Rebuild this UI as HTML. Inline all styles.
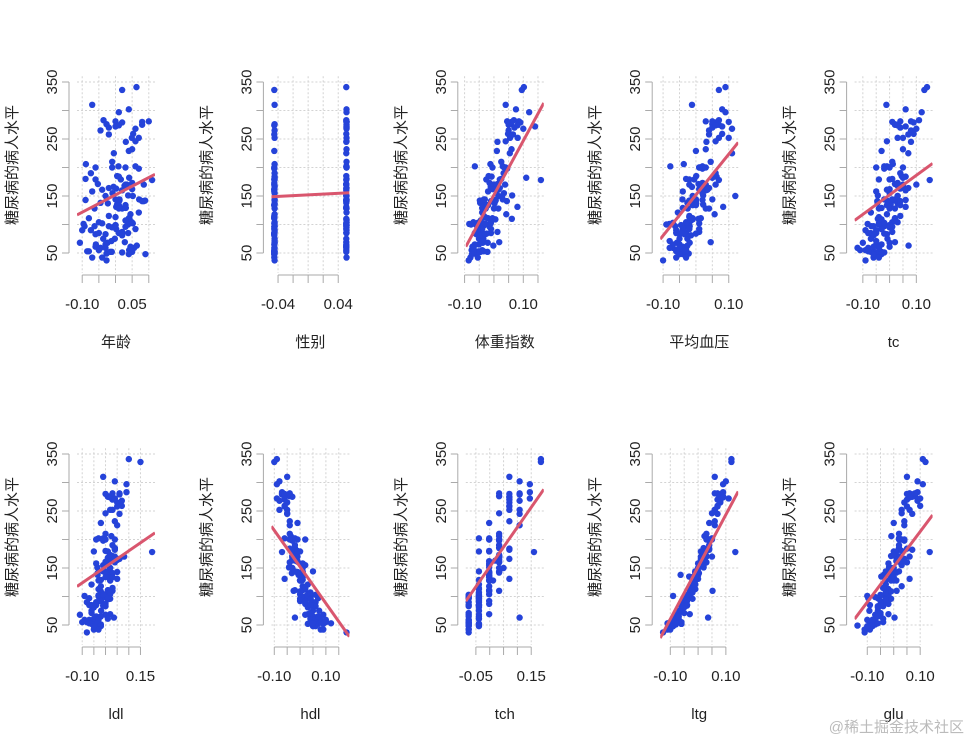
<!DOCTYPE html>
<html><head><meta charset="utf-8"><style>
body{margin:0;background:#fff}
svg{display:block;font-family:"Liberation Sans","Noto Sans CJK SC",sans-serif}
</style></head><body>
<svg id="c" width="972" height="743"></svg>
<script>
// target: disease progression (shared y for every panel)
const yVals=[151,75,141,206,135,97,138,63,110,310,101,69,179,185,118,171,166,144,97,168,68,49,68,245,184,202,137,85,131,283,129,59,341,87,65,102,265,276,252,90,100,55,61,92,259,53,190,142,75,142,155,225,59,104,182,128,52,37,170,170,61,144,52,128,71,163,150,97,160,178];
const yVals2=[48,270,202,111,85,42,170,200,252,113,143,51,52,210,65,141,55,134,42,111,98,164,48,96,90,162,150,279,92,83,128,102,302,198,95,53,134,144,232,81,104,59,246,297,258,229,275,281,179,200,200,173,180,84,121,161,99,109,115,268,274,158,107,83,103,272,85,280,336,281];
const featureNames=["年龄","性别","体重指数","平均血压","tc","ldl","hdl","tch","ltg","glu"];
const featureKeys=["age","sex","bmi","bp","tc","ldl","hdl","tch","ltg","glu"];
const slopes=[304,69,949,714,343,281,-640,696,916,619];
const intercept=152;
const age=[0.038,-0.002,0.085,-0.089,0.005,-0.093,-0.045,0.064,0.042,-0.07,-0.096,0.028,0.016,0.005,0.045,-0.053,-0.006,0.071,-0.063,0.027,-0.107,-0.027,-0.024,0.031,0.01,0.009,-0.023,0.038,0.002,-0.036,0.031,0.056,0.063,0.02,-0.059,0.052,-0.045,-0.027,0.049,-0.074,0.038,0.041,0.045,0.002,0.053,-0.085,-0.074,0.012,-0.037,0.089,-0.009,-0.005,-0.045,0.049,0.041,-0.063,-0.011,-0.027,0.085,0.034,-0.06,0.012,-0.016,0.02,-0.012,0.002,0.052,-0.02,0.02,0.11];
const sex=[0.0507,-0.0446,0.0507,-0.0446,-0.0446,-0.0446,0.0507,0.0507,0.0507,-0.0446,-0.0446,0.0507,-0.0446,0.0507,-0.0446,0.0507,-0.0446,0.0507,-0.0446,-0.0446,-0.0446,-0.0446,-0.0446,0.0507,-0.0446,0.0507,-0.0446,0.0507,0.0507,0.0507,0.0507,0.0507,0.0507,-0.0446,0.0507,0.0507,-0.0446,-0.0446,-0.0446,-0.0446,0.0507,0.0507,0.0507,0.0507,0.0507,-0.0446,-0.0446,-0.0446,0.0507,0.0507,-0.0446,0.0507,-0.0446,-0.0446,-0.0446,0.0507,-0.0446,-0.0446,0.0507,0.0507,0.0507,-0.0446,0.0507,-0.0446,-0.0446,0.0507,0.0507,0.0507,0.0507,0.0507];
const bmi=[0.062,-0.051,0.044,-0.012,-0.036,-0.041,-0.047,-0.002,0.061,0.04,-0.084,0.018,-0.026,-0.018,0.042,0.012,-0.011,-0.034,-0.038,-0.002,-0.038,-0.065,-0.021,0.012,-0.008,-0.065,0.002,-0.01,0.08,0.068,-0.04,-0.069,0.102,0.012,-0.051,-0.011,0.05,0.058,0.081,-0.052,-0.078,-0.076,-0.073,-0.01,0.048,-0.052,0.033,-0.048,-0.036,0.006,0.034,0.054,-0.072,-0.07,0.11,-0.028,-0.046,-0.086,0.038,0.0,-0.073,-0.031,-0.022,0.015,-0.04,0.006,0.028,-0.053,0.009,0.16];
const bp=[0.022,-0.026,-0.006,-0.037,0.022,-0.019,-0.026,-0.026,0.008,-0.012,-0.081,0.045,-0.02,0.001,0.057,0.008,-0.012,-0.041,-0.063,0.022,-0.058,-0.022,-0.019,0.032,0.063,-0.078,0.001,-0.03,0.083,0.07,-0.04,-0.03,0.09,0.01,-0.05,-0.07,0.04,0.05,0.1,-0.06,-0.09,-0.06,-0.04,0.01,0.08,-0.03,0.06,-0.02,-0.05,-0.01,0.02,0.11,-0.07,-0.02,0.05,0.03,-0.04,-0.1,0.06,-0.02,-0.05,0.0,-0.03,0.04,-0.08,0.02,0.12,-0.04,0.03,0.07];
const tc=[-0.044,-0.008,-0.046,0.012,0.004,-0.068,-0.045,0.071,-0.044,-0.012,-0.082,0.02,-0.04,0.045,-0.01,0.02,0.05,-0.02,-0.06,0.03,-0.1,-0.05,0.0,0.08,0.06,-0.02,0.03,-0.07,0.06,0.11,-0.03,-0.08,0.14,0.01,-0.05,-0.02,0.08,0.02,0.05,-0.09,-0.04,-0.11,0.0,-0.03,0.09,-0.06,0.04,-0.01,-0.07,0.02,0.0,0.07,-0.12,0.01,0.05,-0.04,-0.03,-0.09,0.1,0.03,-0.06,0.02,-0.04,0.0,-0.05,0.04,0.03,-0.02,0.06,0.15];
const ldl=[-0.035,-0.019,-0.034,0.025,0.016,-0.019,-0.034,0.036,0.03,-0.01,-0.09,0.02,-0.05,0.04,-0.02,0.03,0.06,-0.01,-0.07,0.01,-0.11,-0.04,0.0,0.06,0.04,-0.03,0.02,-0.06,0.05,0.09,-0.02,-0.07,0.1,0.0,-0.04,-0.03,0.05,0.01,0.03,-0.08,-0.03,-0.1,0.01,-0.02,0.07,-0.05,0.03,0.0,-0.06,0.02,-0.01,0.05,-0.09,0.0,0.04,-0.03,-0.05,-0.08,0.08,0.02,-0.05,0.01,-0.04,0.02,-0.06,0.03,0.02,-0.02,0.04,0.2];
const hdl=[-0.043,0.074,-0.032,-0.036,0.008,0.041,-0.006,-0.02,-0.025,-0.05,0.04,0.03,-0.01,-0.02,0.01,-0.03,-0.02,0.05,0.07,-0.03,0.09,0.06,0.02,-0.05,-0.04,-0.06,0.0,0.03,-0.06,-0.07,0.01,0.08,-0.09,0.02,0.05,0.03,-0.05,-0.04,-0.08,0.06,0.02,0.1,0.04,0.0,-0.06,0.12,-0.02,0.01,0.05,-0.01,0.02,-0.04,0.07,0.03,-0.03,0.0,0.09,0.18,-0.02,-0.01,0.06,0.01,0.07,0.0,0.04,-0.02,-0.03,0.03,-0.04,-0.07];
const tch=[-0.002,-0.039,-0.002,0.034,-0.002,-0.076,-0.002,0.108,0.034,0.071,-0.076,-0.002,-0.039,0.034,-0.002,0.034,0.071,-0.039,-0.076,0.034,-0.076,-0.076,-0.039,0.108,0.071,-0.039,-0.002,-0.039,0.071,0.145,-0.039,-0.076,0.185,-0.002,-0.039,-0.039,0.071,0.034,0.108,-0.076,-0.039,-0.076,-0.039,-0.002,0.071,-0.076,0.034,-0.002,-0.039,0.034,-0.002,0.108,-0.076,-0.039,0.071,-0.002,-0.039,-0.076,0.034,0.034,-0.039,-0.002,-0.039,0.012,-0.076,0.02,0.05,-0.039,0.034,0.16];
const ltg=[0.02,-0.068,0.003,0.023,-0.032,-0.041,-0.063,0.036,0.052,0.06,-0.09,-0.03,0.01,0.02,-0.02,0.03,0.01,-0.01,-0.05,0.02,-0.08,-0.1,-0.07,0.07,0.04,0.05,0.0,-0.04,0.0,0.09,-0.01,-0.08,0.12,-0.05,-0.07,-0.03,0.08,0.09,0.06,-0.06,-0.04,-0.1,-0.09,-0.04,0.07,-0.11,0.04,0.0,-0.06,-0.01,0.02,0.06,-0.08,-0.03,0.04,-0.02,-0.09,-0.126,0.03,0.05,-0.07,-0.01,-0.06,-0.02,-0.05,0.01,0.0,-0.04,0.03,0.134];
const glu=[-0.018,-0.092,-0.026,-0.009,-0.047,-0.096,-0.038,0.003,0.011,0.05,-0.1,-0.02,0.0,0.02,0.03,-0.01,0.04,-0.03,-0.06,0.01,-0.05,-0.137,-0.07,0.07,0.05,0.02,-0.01,-0.04,0.06,0.09,-0.03,-0.08,0.11,-0.02,-0.06,-0.05,0.04,0.08,0.03,-0.04,-0.02,-0.09,-0.07,-0.05,0.1,-0.08,0.02,0.01,-0.06,0.0,0.03,0.04,-0.1,-0.03,0.07,-0.01,-0.07,-0.11,0.06,0.02,-0.04,0.0,-0.09,0.01,-0.05,0.03,0.0,-0.02,0.05,0.136];
// second batch of samples, feature values in thousandths
const age2=[40,-20,60,-80,10,-40,30,-60,70,0,-90,20,50,-10,-30,80,-50,10,-70,40,0,-20,90,30,-100,50,-30,20,60,-60,10,-40,40,70,-10,-80,30,0,50,20,-50,-30,60,10,-20,40,80,0,-60,30,-10,50,-90,20,70,-40,0,40,-20,60,10,-70,30,-30,50,0,-50,80,20,100];
const sex2=[-45,51,51,-45,51,-45,-45,51,51,-45,51,-45,-45,51,-45,51,-45,-45,51,-45,51,51,-45,-45,51,-45,51,51,-45,-45,51,-45,51,-45,51,-45,-45,51,51,-45,51,-45,51,51,-45,-45,51,51,-45,51,-45,-45,51,-45,51,-45,51,51,-45,51,-45,-45,51,-45,51,51,-45,51,-45,51];
const bmi2=[-60,70,30,-20,-45,-55,10,40,55,-30,5,-70,-50,25,-65,-10,-40,-25,-80,-5,-35,20,-75,-15,-50,-5,15,90,-40,-60,0,-30,75,45,-55,-35,-20,30,60,-45,-10,-70,40,120,65,10,50,85,20,-5,35,-15,25,-25,-40,15,-60,5,-35,100,80,-20,-45,-30,-55,140,-65,60,95,45];
const bp2=[-40,50,20,-10,-60,-30,30,10,70,-20,20,-50,-40,45,-70,0,-30,-10,-60,15,-20,40,-50,-30,-40,10,-10,60,-20,-50,-25,10,80,20,-40,-60,0,50,30,-15,-30,-80,60,90,40,0,70,50,-5,30,10,20,-30,0,-55,35,-45,-10,-20,110,60,-40,-15,-35,-70,80,-45,100,70,30];
const tc2=[-30,40,-10,20,-50,-60,50,0,30,-40,60,-20,-70,10,-30,40,-90,-10,-40,20,-20,70,-60,10,-50,0,30,90,-30,-10,20,-40,60,-20,0,-80,40,10,50,-60,30,-40,-10,120,70,-30,20,80,0,50,-50,30,10,-20,-70,-10,0,-30,40,100,30,-50,20,-60,-20,60,-80,10,130,40];
const ldl2=[-20,30,-10,10,-40,-50,40,0,20,-30,50,-20,-60,0,-20,30,-80,0,-30,10,-10,50,-50,20,-40,10,20,60,-20,0,20,-30,40,-10,10,-70,30,0,40,-50,20,-30,0,90,50,-20,10,60,10,40,-40,20,0,-10,-60,0,10,-20,30,70,20,-40,20,-50,-10,40,-70,0,150,30];
const hdl2=[50,-60,-20,10,40,80,-30,-10,-50,20,-10,60,30,-40,70,0,40,10,90,-20,30,-30,60,0,50,-10,10,-70,20,60,0,30,-80,-30,40,50,10,-20,-40,30,0,100,-50,-90,-60,-10,-30,-70,0,-40,20,-20,-10,50,30,-10,70,0,20,-80,-60,10,40,30,60,-90,40,-60,-100,-40];
const tch2=[-39,71,-2,-2,-39,-76,34,-2,71,-39,34,-76,-39,34,-76,-2,-76,-2,-76,-2,-39,34,-76,-39,-39,-2,34,108,-39,-76,-2,-39,108,34,-39,-76,-2,34,71,-39,-2,-76,34,145,71,-2,71,108,-2,34,-2,34,-2,-39,-39,34,-76,-2,-39,108,71,-2,-39,-39,-76,145,-76,71,185,34];
const ltg2=[-90,70,30,-20,-40,-110,10,40,60,-10,0,-80,-60,30,-70,-10,-60,-20,-100,-30,-30,20,-90,-20,-50,10,0,80,-40,-60,-10,-30,100,40,-40,-80,-10,0,60,-50,-30,-90,50,90,70,40,80,70,20,30,50,20,30,-40,-10,10,-50,-20,-30,80,90,0,-20,-50,-40,110,-60,70,120,60];
const glu2=[-80,50,20,-30,-50,-90,10,30,60,-20,0,-70,-80,20,-60,-10,-40,0,-110,-20,-30,40,-100,-10,-40,10,-10,70,-50,-40,0,-20,90,40,-30,-60,-10,20,40,-60,-20,-80,30,110,50,0,70,60,10,40,20,0,30,-50,-30,20,-70,-10,-40,90,60,-20,-30,-60,-50,100,-90,50,120,80];
const xTicks=[[-0.1,-0.05,0,0.05,0.1],[-0.04,-0.02,0,0.02,0.04],[-0.1,-0.05,0,0.05,0.1,0.15],[-0.1,-0.05,0,0.05,0.1],[-0.1,-0.05,0,0.05,0.1],[-0.1,-0.05,0,0.05,0.1,0.15],[-0.1,-0.05,0,0.05,0.1,0.15],[-0.05,0,0.05,0.1,0.15],[-0.1,-0.05,0,0.05,0.1],[-0.1,-0.05,0,0.05,0.1]];
const xTickLabels=[["-0.10","0.05"],["-0.04","0.04"],["-0.10","0.10"],["-0.10","0.10"],["-0.10","0.10"],["-0.10","0.15"],["-0.10","0.10"],["-0.05","0.15"],["-0.10","0.10"],["-0.10","0.10"]];
const yTicks=[50,100,150,200,250,300,350];
const yTickLabels=["50","150","250","350"];
const xs1=[age,sex,bmi,bp,tc,ldl,hdl,tch,ltg,glu];
const xs2=[age2,sex2,bmi2,bp2,tc2,ldl2,hdl2,tch2,ltg2,glu2];
const allY=yVals.concat(yVals2);

const NS="http://www.w3.org/2000/svg";
const svg=document.getElementById('c');
function mk(tag,attrs,parent){const e=document.createElementNS(NS,tag);for(const k in attrs)e.setAttribute(k,attrs[k]);(parent||svg).appendChild(e);return e;}
const defs=mk('defs',{});
for(let p=0;p<10;p++){
  const col=p%5,row=Math.floor(p/5);
  const ax=77+col*194.4, ro=row*372;
  const bx0=ax, bx1=ax+78;
  const x=xs1[p].concat(xs2[p].map(v=>v/1000));
  const n=Math.min(x.length,allY.length);
  let mn=Math.min(...x.slice(0,n)),mx=Math.max(...x.slice(0,n));
  const r=mx-mn, lo=mn-0.04*r, hi=mx+0.04*r;
  const sx=v=>bx0+(v-lo)/(hi-lo)*(bx1-bx0);
  const sy=v=>ro+253-(v-50)*171/300;
  const g=mk('g',{});
  
  
  const bt=sy(360), bb=sy(15);
  for(const t of xTicks[p]){const gl=mk('line',{x1:sx(t),x2:sx(t),y1:bt,y2:bb,stroke:'#d3d3d3','stroke-dasharray':'2,2'},g);
    }
  for(const t of yTicks){const gl=mk('line',{x1:bx0,x2:bx1,y1:sy(t),y2:sy(t),stroke:'#d3d3d3','stroke-dasharray':'2,2'},g);
    }
  const ya=mk('line',{x1:bx0-8,x2:bx0-8,y1:sy(350),y2:sy(50),stroke:'#aaa'},g);
  
  for(const t of yTicks){const tk=mk('line',{x1:bx0-15,x2:bx0-8,y1:sy(t),y2:sy(t),stroke:'#aaa'},g);
    }
  for(const l of yTickLabels){const tx=mk('text',{x:0,y:0,transform:`translate(${bx0-20},${sy(+l)}) rotate(-90)`,'text-anchor':'middle','font-size':15,fill:'#222'},g);
    tx.textContent=l;}
  const yl=mk('text',{x:0,y:0,transform:`translate(${ax-60},${ro+165}) rotate(-90)`,'text-anchor':'middle','font-size':15,fill:'#222'},g);
  yl.textContent='糖尿病的病人水平';
  const xt=xTicks[p];
  const xa=mk('line',{x1:sx(xt[0]),x2:sx(xt[xt.length-1]),y1:ro+275,y2:ro+275,stroke:'#aaa'},g);
  
  for(const t of xt){const tk=mk('line',{x1:sx(t),x2:sx(t),y1:ro+275,y2:ro+283,stroke:'#aaa'},g);
    }
  for(const l of xTickLabels[p]){const tx=mk('text',{x:sx(parseFloat(l)),y:ro+309,'text-anchor':'middle','font-size':15,fill:'#222'},g);
    tx.textContent=l;}
  const xl=mk('text',{x:(bx0+bx1)/2,y:ro+347,'text-anchor':'middle','font-size':15,fill:'#222'},g);
  xl.textContent=featureNames[p];
  for(let i=0;i<n;i++){const c=mk('circle',{cx:sx(x[i]),cy:sy(allY[i]),r:3.2,fill:'#2543d9'},g);
    }
  const cp=mk('clipPath',{id:'clip'+p},defs);mk('rect',{x:bx0,y:bt,width:bx1-bx0,height:bb-bt},cp);
  const rl=mk('line',{x1:sx(lo),y1:sy(intercept+slopes[p]*lo),x2:sx(hi),y2:sy(intercept+slopes[p]*hi),stroke:'#d9566e','stroke-width':3,'clip-path':`url(#clip${p})`},g);
  
}
const wm=mk('text',{x:964,y:732,'text-anchor':'end','font-size':15,fill:'#bbb'});
wm.textContent='@稀土掘金技术社区';


</script>
</body></html>
